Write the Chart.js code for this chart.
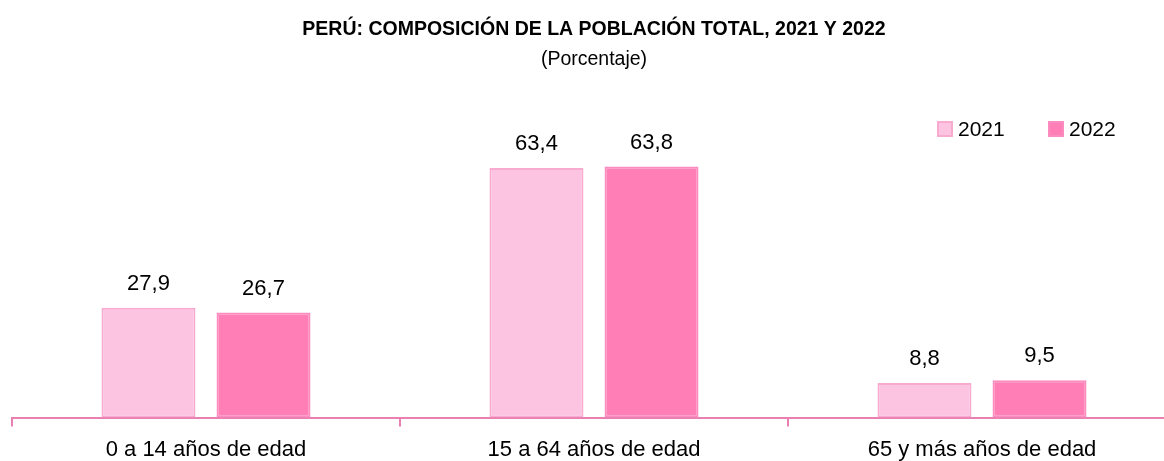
<!DOCTYPE html>
<html>
<head>
<meta charset="utf-8">
<script src="https://cdn.jsdelivr.net/npm/chart.js@4.4.0/dist/chart.umd.min.js"></script>
<style>
  html, body { margin: 0; padding: 0; background: #fff; overflow: hidden; }
  #wrap { width: 1180px; height: 461px; }
</style>
</head>
<body>
<div id="wrap"><canvas id="chart"></canvas></div>
<script>
// data
const categories = ['0 a 14 años de edad', '15 a 64 años de edad', '65 y más años de edad'];
const years = ['2021', '2022'];
const values2021 = [27.9, 63.4, 8.8];
const values2022 = [26.7, 63.8, 9.5];

const FONT = "'Liberation Sans', Arial, sans-serif";
const PINK_LINE = '#EA80B2';

// value labels above the bars, with comma as decimal mark
const barLabels = {
  id: 'barLabels',
  afterDatasetsDraw(chart) {
    const ctx = chart.ctx;
    ctx.save();
    ctx.font = '22px ' + FONT;
    ctx.fillStyle = '#000';
    ctx.textAlign = 'center';
    ctx.textBaseline = 'alphabetic';
    chart.data.datasets.forEach((ds, i) => {
      chart.getDatasetMeta(i).data.forEach((bar, j) => {
        const txt = ds.data[j].toFixed(1).replace('.', ',');
        ctx.fillText(txt, bar.x, bar.y - 18);
      });
    });
    ctx.restore();
  }
};

// legend in the top right corner
const cornerLegend = {
  id: 'cornerLegend',
  afterDraw(chart) {
    const ctx = chart.ctx;
    const xs = [937, 1048];
    ctx.save();
    ctx.font = '21px ' + FONT;
    ctx.textBaseline = 'middle';
    chart.data.datasets.forEach((ds, i) => {
      ctx.fillStyle = ds.backgroundColor;
      ctx.strokeStyle = ds.borderColor;
      ctx.lineWidth = 2;
      ctx.fillRect(xs[i] + 1, 122, 14, 14);
      ctx.strokeRect(xs[i] + 1, 122, 14, 14);
      ctx.fillStyle = '#000';
      ctx.fillText(ds.label, xs[i] + 21, 130);
    });
    ctx.restore();
  }
};

new Chart(document.getElementById('chart'), {
  type: 'bar',
  data: {
    labels: categories,
    datasets: [
      {
        label: years[0],
        data: values2021,
        backgroundColor: '#FDC4E1',
        borderColor: '#F8AAD1',
        borderWidth: 2,
        borderSkipped: false,
        categoryPercentage: 0.593,
        barPercentage: 0.817
      },
      {
        label: years[1],
        data: values2022,
        backgroundColor: '#FF7EB6',
        borderColor: '#FA8CBF',
        borderWidth: 2,
        borderSkipped: false,
        categoryPercentage: 0.593,
        barPercentage: 0.817
      }
    ]
  },
  options: {
    responsive: true,
    maintainAspectRatio: false,
    animation: false,
    layout: { padding: { left: 12, right: 4, top: 0, bottom: -12 } },
    scales: {
      x: {
        grid: {
          offset: true,
          drawOnChartArea: false,
          drawTicks: true,
          tickLength: 9,
          color: PINK_LINE,
          lineWidth: 2
        },
        border: { color: PINK_LINE, width: 2 },
        ticks: {
          color: '#000',
          padding: 10,
          font: { family: FONT, size: 22 }
        }
      },
      y: {
        display: false,
        min: 0,
        max: 80
      }
    },
    plugins: {
      legend: { display: false },
      tooltip: { enabled: false },
      title: {
        display: true,
        text: 'PERÚ: COMPOSICIÓN DE LA POBLACIÓN TOTAL, 2021 Y 2022',
        color: '#000',
        font: { family: FONT, size: 19.5, weight: 'bold' },
        padding: { top: 18, bottom: 7 }
      },
      subtitle: {
        display: true,
        text: '(Porcentaje)',
        color: '#000',
        font: { family: FONT, size: 19.5 },
        padding: { top: 0, bottom: 31 }
      }
    }
  },
  plugins: [barLabels, cornerLegend]
});
</script>
</body>
</html>
